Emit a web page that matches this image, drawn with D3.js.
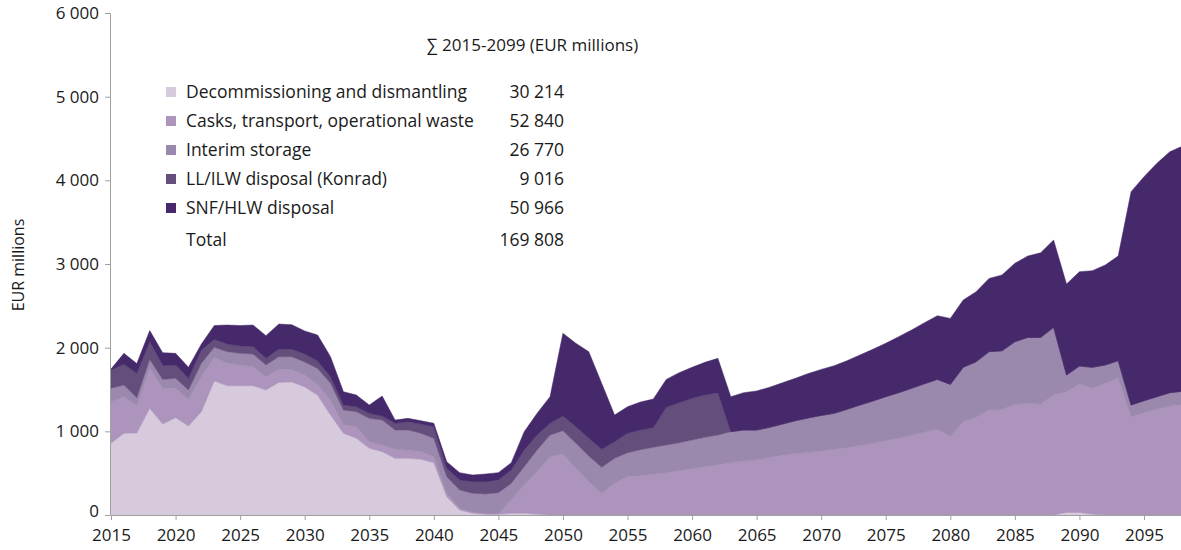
<!DOCTYPE html>
<html>
<head>
<meta charset="utf-8">
<script src="https://cdn.jsdelivr.net/npm/d3@7"></script>
<style>
body { margin: 0; background: #fff; }
svg { display: block; font-family: "Open Sans", "Noto Sans", sans-serif; }
</style>
</head>
<body>
<svg id="chart" width="1181" height="550"></svg>
<script>
var years = d3.range(2015, 2100);

var decommissioning = [857,976,980,1275,1087,1163,1064,1235,1601,1545,1545,1545,1494,1585,1590,1530,1430,1195,976,916,797,757,677,677,665,625,219,60,20,10,10,20,20,10,0,0,0,0,0,0,0,0,0,0,0,0,0,0,0,0,0,0,0,0,0,0,0,0,0,0,0,0,0,0,0,0,0,0,0,0,0,0,0,0,30,30,10,0,0,0,0,0,0,0,0];
var casks = [497,438,330,478,427,351,318,418,284,268,248,228,159,160,150,143,130,179,100,139,79,80,108,100,92,72,40,20,15,5,5,159,338,508,697,729,558,398,259,379,458,470,486,506,530,553,577,601,625,645,660,689,712,735,750,765,785,805,830,857,888,916,952,988,1024,936,1115,1167,1255,1258,1326,1334,1326,1434,1444,1535,1504,1574,1633,1175,1223,1263,1302,1320,1340];
var interim = [160,139,90,107,107,119,112,160,119,139,139,151,140,147,152,157,190,200,179,180,279,298,231,239,219,219,199,219,224,236,252,200,219,259,259,279,299,307,311,298,287,310,323,331,334,343,351,355,371,371,355,359,375,392,410,425,430,458,484,505,526,546,562,581,597,625,650,665,697,704,745,789,797,809,199,216,251,219,211,139,143,151,160,160,160];
var llilw = [219,248,293,211,172,160,139,159,95,91,88,88,80,92,90,95,90,79,59,59,60,48,80,99,111,139,100,119,139,147,151,159,200,179,140,175,198,211,215,199,231,236,235,450,478,498,506,506,0,0,0,0,0,0,0,0,0,0,0,0,0,0,0,0,0,0,0,0,0,0,0,0,0,0,0,0,0,0,0,0,0,0,0,0,0];
var snfhlw = [12,131,117,134,147,139,132,71,166,227,245,258,270,298,293,275,311,239,160,140,99,239,39,40,40,41,79,88,80,92,88,87,219,259,318,988,997,1036,789,319,318,334,342,334,359,371,391,411,418,446,468,478,494,506,530,550,569,581,598,618,638,669,697,729,761,789,804,836,876,906,937,972,1012,1043,1087,1127,1155,1195,1251,2550,2677,2789,2879,2930,3050];

var seriesKeys = ['decom','casks','interim','llilw','snf'];
var seriesLabels = ['Decommissioning and dismantling','Casks, transport, operational waste','Interim storage','LL/ILW disposal (Konrad)','SNF/HLW disposal'];
var seriesTotals = [30214, 52840, 26770, 9016, 50966];
var grandTotal = 169808;
var colors = ['#d6cadc','#ad94bc','#9b89ad','#644f7c','#46296a'];

var yTicks = [0,1000,2000,3000,4000,5000,6000];
var xTicks = d3.range(2015, 2100, 5);

var table = years.map(function (yr, i) {
	return {year: yr, decom: decommissioning[i], casks: casks[i], interim: interim[i], llilw: llilw[i], snf: snfhlw[i]};
});

var svg = d3.select('#chart');
var fmt = d3.formatLocale({decimal: '.', thousands: '\u2009', grouping: [3], currency: ['', '']}).format(',');
var fmtSp = function (v) { return fmt(v).replace(/\u2009/g, ' '); };

var x = d3.scaleLinear().domain([2015, 2099]).range([111, 111 + 84 * 12.9125]);
var y = d3.scaleLinear().domain([0, 6000]).range([515, 13]);

var stack = d3.stack().keys(seriesKeys);
var layers = stack(table);

var area = d3.area()
	.x(function (d) { return x(d.data.year); })
	.y0(function (d) { return y(d[0]); })
	.y1(function (d) { return y(d[1]); });

svg.selectAll('.layer').data(layers).enter()
	.append('path')
	.attr('class', 'layer')
	.attr('d', area)
	.attr('fill', function (d, i) { return colors[i]; })
	.attr('stroke', function (d, i) { return colors[i]; })
	.attr('stroke-width', 0.5);

// y axis
var yAxis = svg.append('g')
	.attr('transform', 'translate(110,0)')
	.call(d3.axisLeft(y).tickValues(yTicks).tickSize(5).tickPadding(6).tickFormat(fmtSp));
yAxis.select('.domain').attr('stroke', '#a0a0a0');
yAxis.selectAll('.tick line').attr('stroke', '#a0a0a0');
yAxis.selectAll('text').attr('font-size', '17px').attr('fill', '#1a1a1a')
	.attr('font-family', '"Open Sans", sans-serif');
yAxis.selectAll('.tick text').filter(function (d) { return d === 0; }).attr('dy', '0.1em');

// x axis
var xAxis = svg.append('g')
	.attr('transform', 'translate(0,515)')
	.call(d3.axisBottom(x).tickValues(xTicks).tickSize(5).tickPadding(9).tickFormat(d3.format('d')));
xAxis.select('.domain').attr('stroke', '#a0a0a0');
xAxis.selectAll('.tick line').attr('stroke', '#a0a0a0');
xAxis.selectAll('text').attr('font-size', '17px').attr('fill', '#1a1a1a')
	.attr('font-family', '"Open Sans", sans-serif');

svg.append('text')
	.attr('transform', 'translate(24,265) rotate(-90)')
	.attr('text-anchor', 'middle')
	.attr('font-size', '16px')
	.attr('fill', '#1a1a1a')
	.text('EUR millions');

// legend
svg.append('text')
	.attr('x', 427).attr('y', 51)
	.attr('font-size', '17px')
	.attr('fill', '#1a1a1a')
	.text('\u2211 2015-2099 (EUR millions)');

var rowY = function (i) { return i < 5 ? 92 + i * 29 : 240; };

svg.selectAll('.legSq').data(seriesLabels).enter()
	.append('rect')
	.attr('class', 'legSq')
	.attr('x', 166)
	.attr('y', function (d, i) { return rowY(i) - 5; })
	.attr('width', 10).attr('height', 10)
	.attr('fill', function (d, i) { return colors[i]; });

svg.selectAll('.legTxt').data(seriesLabels.concat(['Total'])).enter()
	.append('text')
	.attr('class', 'legTxt')
	.attr('x', 186)
	.attr('y', function (d, i) { return rowY(i); })
	.attr('dy', '0.35em')
	.attr('font-size', '17.5px')
	.attr('fill', '#1a1a1a')
	.text(function (d) { return d; });

svg.selectAll('.legVal').data(seriesTotals.concat([grandTotal])).enter()
	.append('text')
	.attr('class', 'legVal')
	.attr('x', 564)
	.attr('y', function (d, i) { return rowY(i); })
	.attr('dy', '0.35em')
	.attr('text-anchor', 'end')
	.attr('font-size', '17.5px')
	.attr('fill', '#1a1a1a')
	.text(function (d) { return fmtSp(d); });
</script>
</body>
</html>
